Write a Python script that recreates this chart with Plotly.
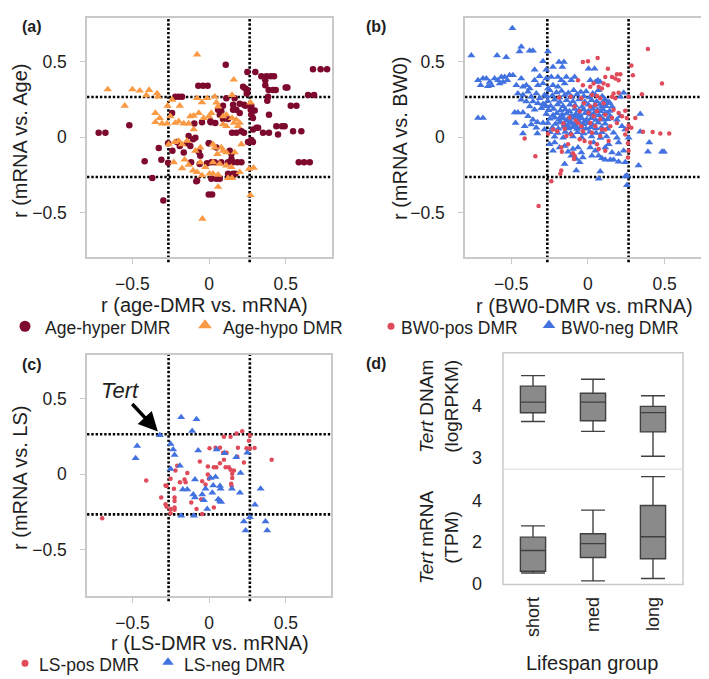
import plotly.graph_objects as go

W, H = 709, 679

# ---------------- Panel (a) : age DMRs ----------------
a_hyper = [(-0.07,0.339),(-0.039,0.339),(-0.009,0.339),
(-0.22,0.267),(-0.198,0.267),(-0.176,0.267),
(-0.241,0.159),(-0.72,0.028),(-0.676,0.028),(-0.52,0.078),
(-0.096,0.089),(-0.046,0.098),(0.009,0.104),
(-0.328,-0.072),(-0.42,-0.161),(-0.311,-0.15),(-0.267,-0.17),(-0.37,-0.272),(-0.298,-0.42),
(-0.267,-0.041),(-0.239,-0.091),(-0.209,-0.033),(-0.191,-0.059),(-0.165,-0.102),(-0.143,-0.041),
(-0.133,0.007),(-0.104,-0.015),(-0.089,-0.004),(-0.122,-0.059),(-0.067,-0.098),(-0.057,-0.124),
(-0.117,-0.167),(-0.061,-0.178),(-0.083,-0.293),(-0.002,-0.041),(-0.013,-0.174),(-0.002,-0.38),
(0.02,-0.38),(-0.078,-0.289),
(0.109,0.478),(0.678,0.448),(0.728,0.448),(0.77,0.448),(0.25,0.43),(0.302,0.43),(0.341,0.402),
(0.374,0.402),(0.402,0.402),(0.424,0.402),(0.367,0.376),(0.222,0.333),(0.237,0.322),(0.367,0.343),
(0.389,0.311),(0.417,0.311),(0.435,0.311),(0.5,0.328),(0.511,0.328),(0.25,0.311),(0.246,0.289),
(0.113,0.257),(0.167,0.257),(0.646,0.278),(0.685,0.278),(0.385,0.267),(0.38,0.241),(0.533,0.207),
(0.57,0.207),(0.2,0.22),(0.228,0.213),(0.237,0.207),(0.157,0.213),(0.178,0.18),(0.2,0.159),
(0.157,0.18),(0.276,0.207),(0.272,0.18),(0.298,0.176),(0.391,0.148),(0.276,0.148),(0.287,0.126),
(0.091,0.207),(0.059,0.18),(0.08,0.17),(0.07,0.148),(0.091,0.12),(0.124,0.12),(0.439,0.072),
(0.476,0.072),(0.493,0.072),(0.287,0.05),(0.309,0.061),(0.32,0.061),(0.352,0.028),(0.391,0.028),
(0.45,0.017),(0.548,0.039),(0.602,0.039),(0.211,0.039),(0.228,0.028),(0.15,0.028),(0.178,0.028),
(0.276,-0.02),(0.254,-0.033),(0.287,-0.033),(0.011,0.098),(0.041,0.093),(0.0,-0.041),(0.048,-0.07),
(0.135,-0.091),(0.146,-0.113),(0.08,-0.167),(0.124,-0.167),(0.157,-0.167),(0.185,-0.167),
(0.211,-0.167),(0.146,-0.146),(0.015,-0.167),(0.037,-0.167),(0.585,-0.167),(0.62,-0.167),
(0.657,-0.167),(0.015,-0.276),(0.048,-0.276),(0.07,-0.276),(0.124,-0.243),(0.157,-0.243),(0.172,-0.243)]

a_hypo = [(-0.078,0.546),(-0.661,0.315),(-0.5,0.315),(-0.452,0.307),(-0.391,0.311),(-0.409,0.276),
(-0.339,0.289),(-0.333,0.267),(-0.55,0.207),(-0.27,0.207),(-0.241,0.246),(-0.191,0.207),
(-0.078,0.257),(-0.046,0.23),(-0.013,0.257),
(-0.35,0.159),(-0.322,0.126),(-0.35,0.098),(-0.307,0.089),(-0.274,0.089),(-0.252,0.137),
(-0.22,0.093),(-0.198,0.104),(-0.165,0.089),(-0.133,0.089),(-0.122,0.137),(-0.1,0.141),
(-0.067,0.159),(-0.035,0.126),(-0.1,0.05),
(-0.263,-0.048),(-0.224,-0.033),(-0.198,-0.026),(-0.176,-0.048),(-0.143,-0.026),(-0.23,-0.167),
(-0.159,-0.15),(-0.176,-0.207),(-0.133,-0.185),(-0.104,-0.222),(-0.078,-0.233),(-0.046,-0.254),
(-0.057,-0.167),(-0.024,-0.2),(-0.089,-0.091),(-0.057,-0.07),(-0.043,-0.541),
(0.161,0.38),(0.15,0.278),(0.27,0.228),(0.037,0.267),(0.048,0.228),(0.059,0.202),(0.015,0.159),
(0.0,0.137),(0.091,0.137),(0.113,0.148),(0.15,0.126),(0.178,0.115),(0.2,0.093),(0.163,0.093),
(0.189,0.072),(0.091,0.083),(0.113,0.072),(0.211,-0.048),(0.026,-0.048),(0.037,-0.07),(0.08,-0.07),
(0.091,-0.091),(0.054,-0.113),(0.113,-0.102),(0.167,-0.102),(0.026,-0.167),(0.07,-0.178),
(0.113,-0.189),(0.146,-0.2),(0.004,-0.243),(0.026,-0.243),(0.059,-0.25),(0.124,-0.272),(0.15,-0.272),
(0.2,-0.233),(0.261,-0.211),(0.291,-0.204),(0.059,-0.33),(0.27,-0.385)]

# ---------------- Panel (b) : BW0 DMRs ----------------
b_pos = [(-0.413,-0.009),(-0.343,-0.128),(-0.26,0.022),(-0.189,0.261),(-0.152,0.054),(-0.2,0.039),
(-0.228,0.05),(-0.174,-0.07),(-0.17,-0.098),(-0.13,-0.048),(-0.141,0.007),(-0.109,0.017),
(-0.098,-0.107),(-0.087,-0.124),(-0.091,-0.146),(-0.174,-0.222),(-0.18,-0.243),(-0.239,-0.293),
(-0.322,-0.457),(-0.033,0.496),(-0.065,0.376),(-0.033,0.343),(-0.113,0.267),(-0.043,0.257),
(-0.026,0.224),(-0.087,0.202),(-0.054,0.17),(-0.065,0.093),(-0.043,0.072),(-0.033,0.039),
(-0.054,-0.015),(-0.022,-0.026),
(0.391,0.583),(0.063,0.524),(0.0,0.502),(0.13,0.452),(0.283,0.474),(0.293,0.409),(0.189,0.415),
(0.211,0.415),(0.178,0.387),(0.2,0.376),(0.157,0.398),(0.113,0.398),(0.483,0.354),(0.102,0.354),
(0.13,0.343),(0.091,0.322),(0.07,0.333),(0.037,0.354),(0.015,0.333),(0.352,0.283),(0.167,0.289),
(0.2,0.293),(0.178,0.257),(0.157,0.267),(0.265,0.267),(0.026,0.278),(0.059,0.272),(0.08,0.257),
(0.102,0.224),(0.048,0.213),(0.015,0.202),(0.167,0.18),(0.2,0.159),(0.243,0.174),(0.222,0.137),
(0.157,0.126),(0.189,0.093),(0.254,0.126),(0.309,0.126),(0.265,0.076),(0.283,0.061),(0.254,0.05),
(0.243,0.017),(0.359,0.035),(0.422,0.033),(0.472,0.024),(0.53,0.024),(0.261,-0.041),(0.265,-0.091),
(0.261,-0.135),(0.113,0.148),(0.08,0.12),(0.146,0.072),(0.091,0.05),(0.048,0.072),(0.015,0.093),
(0.004,0.159),(0.059,0.17),(0.037,0.137),(0.113,0.05),(0.026,0.028),(0.08,0.007),(0.015,-0.037),
(0.059,-0.048),(0.135,-0.026),(0.113,-0.091),(0.07,-0.08),(-0.12,0.13),(-0.08,0.11),(-0.16,0.09)]

b_neg = [(-0.493,0.72),(-0.761,0.539),(-0.593,0.539),(-0.533,0.528),(-0.435,0.598),(-0.446,0.567),
(-0.38,0.572),(-0.359,0.572),(-0.261,0.567),(-0.293,0.502),(-0.348,0.446),(-0.272,0.446),
(-0.228,0.463),(-0.189,0.496),(-0.157,0.496),(-0.167,0.463),
(-0.717,0.376),(-0.685,0.387),(-0.663,0.387),(-0.641,0.365),(-0.63,0.343),(-0.609,0.387),
(-0.587,0.376),(-0.565,0.398),(-0.543,0.398),(-0.526,0.376),(-0.511,0.409),(-0.489,0.409),
(-0.7,0.343),(-0.652,0.337),(-0.576,0.354),(-0.554,0.365),
(-0.435,0.387),(-0.467,0.343),(-0.424,0.333),(-0.402,0.343),(-0.38,0.322),(-0.348,0.376),
(-0.315,0.402),(-0.326,0.343),(-0.293,0.354),(-0.272,0.387),(-0.239,0.398),(-0.196,0.398),
(-0.174,0.376),(-0.141,0.398),(-0.152,0.354),(-0.109,0.376),(-0.087,0.398),(-0.228,0.343),
(-0.196,0.333),(-0.261,0.322),
(-0.457,0.289),(-0.424,0.278),(-0.391,0.3),(-0.37,0.267),(-0.337,0.289),(-0.315,0.257),
(-0.283,0.278),(-0.435,0.246),(-0.402,0.235),(-0.359,0.235),(-0.326,0.224),(-0.293,0.219),
(-0.38,0.202),(-0.348,0.18),(-0.304,0.191),(-0.272,0.202),
(-0.717,0.126),(-0.685,0.126),(-0.478,0.163),(-0.457,0.163),(-0.424,0.163),(-0.472,0.093),
(-0.391,0.137),(-0.359,0.115),(-0.33,0.098),(-0.413,0.072),(-0.37,0.083),(-0.337,0.061),
(-0.424,0.024),(-0.33,0.024),(-0.293,0.093),(-0.283,0.05),
(-0.25,-0.048),(-0.217,-0.037),(-0.185,-0.07),(-0.152,-0.059),(-0.228,-0.091),(-0.13,-0.098),
(-0.098,-0.08),(-0.065,-0.07),(-0.043,-0.102),(-0.076,-0.146),(-0.054,-0.167),(-0.152,-0.178),
(-0.109,-0.124),(-0.033,-0.135),(-0.076,-0.222),
(0.004,0.452),(0.043,0.452),(0.08,0.365),(0.065,0.376),(0.048,0.365),(0.015,0.376),(0.233,0.293),
(0.211,0.267),(0.341,0.152),(0.341,0.035),(0.4,-0.037),(0.391,-0.098),(0.483,-0.098),(0.496,-0.098),
(0.33,-0.189),(0.254,-0.254),(0.254,-0.32),(0.243,-0.261),(0.08,-0.228),(0.07,-0.276),
(0.113,-0.15),(0.146,-0.15),(0.167,-0.15),(0.2,-0.163),(0.243,-0.167),(0.091,-0.141),(0.157,-0.102),
(0.2,-0.113),(0.233,-0.091),(0.265,-0.004),(0.243,0.05),(0.222,0.072),(0.211,0.137),(0.189,0.115),
(0.113,0.246),(0.135,0.224),(0.157,0.202),(0.091,0.202),(0.124,0.159),(0.08,0.17),(0.146,0.137),
(0.102,0.115),(0.167,0.028),(0.189,-0.004),(0.2,-0.037),(0.135,-0.048),(0.113,-0.07),(0.048,-0.091),
(0.026,-0.124),(0.07,-0.124),(0.015,-0.07),(0.037,-0.037),
# dense central cluster
(-0.25,0.31),(-0.205,0.295),(-0.172,0.305),(-0.128,0.292),(-0.093,0.31),(-0.047,0.298),(-0.012,0.302),
(0.031,0.289),(0.068,0.31),(-0.268,0.268),(-0.232,0.275),(-0.187,0.262),(-0.151,0.279),(-0.106,0.265),
(-0.072,0.281),(-0.027,0.27),(0.012,0.262),(0.048,0.279),(0.093,0.27),(-0.262,0.238),(-0.218,0.246),
(-0.183,0.232),(-0.139,0.243),(-0.098,0.236),(-0.058,0.248),(-0.021,0.233),(0.024,0.244),(0.057,0.236),
(0.104,0.241),(0.138,0.232),(-0.281,0.212),(-0.243,0.205),(-0.198,0.216),(-0.162,0.203),(-0.118,0.214),
(-0.083,0.208),(-0.038,0.2),(0.003,0.214),(0.041,0.206),(0.078,0.215),(0.118,0.203),(-0.257,0.178),
(-0.224,0.186),(-0.179,0.175),(-0.148,0.182),(-0.121,0.171),(-0.087,0.186),(-0.061,0.176),(-0.028,0.183),
(0.004,0.172),(0.033,0.186),(0.062,0.177),(0.098,0.183),(0.142,0.172),(-0.272,0.152),(-0.228,0.145),
(-0.203,0.157),(-0.168,0.148),(-0.139,0.155),(-0.108,0.143),(-0.079,0.152),(-0.052,0.146),(-0.018,0.157),
(0.013,0.147),(0.038,0.156),(0.072,0.144),(0.108,0.152),(-0.248,0.121),(-0.217,0.127),(-0.188,0.115),
(-0.161,0.124),(-0.132,0.118),(-0.102,0.126),(-0.068,0.114),(-0.041,0.123),(-0.008,0.116),(0.022,0.125),
(0.052,0.113),(0.088,0.121),(0.128,0.117),(-0.262,0.093),(-0.212,0.087),(-0.183,0.096),(-0.153,0.084),
(-0.118,0.093),(-0.091,0.086),(-0.058,0.095),(-0.032,0.084),(0.002,0.091),(0.031,0.082),(0.067,0.094),
(0.112,0.088),(-0.232,0.062),(-0.193,0.055),(-0.158,0.066),(-0.127,0.057),(-0.098,0.064),(-0.071,0.053),
(-0.038,0.061),(-0.012,0.055),(0.018,0.064),(0.052,0.057),(0.088,0.063),(0.127,0.054),(-0.248,0.032),
(-0.198,0.026),(-0.148,0.034),(-0.112,0.024),(-0.068,0.031),(-0.028,0.023),(0.012,0.033),(0.053,0.026),
(0.092,0.031),(-0.218,0.002),(-0.162,-0.004),(-0.098,0.004),(-0.041,-0.003),(0.024,0.003),(0.081,-0.006),
(0.121,0.004),(-0.143,0.107),(-0.113,0.102),(-0.087,0.132),(-0.176,0.137),(-0.062,0.138),(-0.024,0.103),
(-0.132,0.075),(-0.076,0.072)]

# ---------------- Panel (c) : LS DMRs ----------------
c_pos = [(-0.698,-0.291),(-0.411,-0.041),(0.407,0.096),(0.215,0.285),(0.178,0.27),(0.139,0.248),
(0.096,0.248),(0.265,0.259),(0.259,0.222),(0.243,0.172),(0.265,0.172),(0.296,0.174),(0.041,0.176),
(0.07,0.176),(0.002,0.172),(0.091,0.143),(0.113,0.143),(0.187,0.176),(0.183,0.117),(0.226,0.078),
(0.096,0.096),(0.07,0.074),(-0.061,0.085),(-0.009,0.052),(0.03,0.046),(0.046,0.046),(0.107,0.046),
(0.128,0.046),(0.139,0.03),(0.161,0.026),(0.15,0.004),(0.15,-0.024),(0.143,-0.063),(0.146,-0.078),
(-0.009,-0.002),(-0.002,-0.03),(-0.209,0.057),(-0.22,0.026),(-0.143,0.009),(-0.161,-0.035),
(-0.154,-0.052),(-0.191,-0.052),(-0.252,-0.03),(-0.285,-0.074),(-0.278,-0.078),(-0.23,-0.096),
(-0.046,-0.046),(-0.024,-0.067),(-0.313,-0.154),(-0.226,-0.154),(-0.226,-0.176),(-0.285,-0.198),
(-0.278,-0.215),(-0.226,-0.22),(-0.226,-0.235),(-0.252,-0.23),(-0.117,-0.187),(-0.052,-0.165),
(-0.083,-0.23),(-0.046,-0.263),(0.03,-0.22),(-0.252,-0.257)]

c_neg = [(-0.322,0.259),(-0.183,0.378),(-0.083,0.365),(-0.111,0.287),(-0.47,0.187),(-0.48,0.107),
(-0.252,0.2),(-0.235,0.165),(-0.226,0.128),(-0.191,0.057),(-0.252,0.035),(-0.072,0.157),(0.048,0.165),
(0.1,0.139),(0.248,0.143),(0.176,0.113),(0.204,0.009),(0.009,-0.024),(0.041,-0.017),(-0.093,-0.035),
(-0.024,-0.096),(0.026,-0.074),(0.07,-0.078),(0.074,-0.096),(0.148,-0.096),(0.2,-0.122),(0.335,-0.096),
(-0.172,-0.1),(-0.143,-0.1),(-0.104,-0.133),(-0.093,-0.154),(-0.046,-0.133),(-0.035,-0.172),
(0.02,-0.122),(0.059,-0.165),(0.07,-0.176),(0.078,-0.183),(-0.013,-0.23),(0.298,-0.202),
(-0.183,-0.274),(-0.1,-0.274),(0.265,-0.285),(0.226,-0.313),(0.237,-0.372),(0.367,-0.313),(0.378,-0.372)]

# ---------------- Panel (d) : Tert box plots ----------------
groups = ["short", "med", "long"]
dnam_low = [3.70, 3.51, 3.03]
dnam_q1 = [3.87, 3.715, 3.50]
dnam_med = [4.076, 4.076, 3.873]
dnam_q3 = [4.386, 4.247, 3.994]
dnam_high = [4.59, 4.52, 4.20]
mrna_low = [0.52, 0.14, 0.25]
mrna_q1 = [0.60, 1.26, 1.20]
mrna_med = [1.60, 1.93, 2.26]
mrna_q3 = [2.24, 2.40, 3.76]
mrna_high = [2.78, 3.54, 5.15]

THR = 0.265
DARKRED = "#7d0a2d"
ORANGE = "#fb9a45"
PINK = "#e04b5b"
BLUE = "#4272e0"
TXT = "#1e1e1e"
FONT = "Liberation Sans, Arial, sans-serif"


def px(x):
    return x / W


def py(y):
    return 1 - y / H


def unzip(pts):
    return [p[0] for p in pts], [p[1] for p in pts]


fig = go.Figure()


def scatter(pts, sym, color, size, xa, ya):
    xs, ys = unzip(pts)
    fig.add_trace(go.Scatter(x=xs, y=ys, mode="markers", xaxis=xa, yaxis=ya, showlegend=False,
                             marker=dict(symbol=sym, color=color, size=size, line=dict(width=0))))


scatter(a_hyper, "circle", DARKRED, 6.5, "x", "y")
scatter(a_hypo, "triangle-up", ORANGE, 7.5, "x", "y")
scatter(b_neg, "triangle-up", BLUE, 7, "x2", "y2")
scatter(b_pos, "circle", PINK, 4.5, "x2", "y2")
scatter(c_pos, "circle", PINK, 4.5, "x3", "y3")
scatter(c_neg, "triangle-up", BLUE, 7, "x3", "y3")

# box plots
for lo, q1, me, q3, hi, ya in [(dnam_low, dnam_q1, dnam_med, dnam_q3, dnam_high, "y4"),
                               (mrna_low, mrna_q1, mrna_med, mrna_q3, mrna_high, "y5")]:
    fig.add_trace(go.Box(x=groups, q1=q1, median=me, q3=q3, lowerfence=lo, upperfence=hi,
                         xaxis="x4", yaxis=ya, showlegend=False, width=0.42, whiskerwidth=0.95,
                         fillcolor="#8a8a8a", line=dict(color="#404040", width=1.4),
                         boxpoints=False, hoverinfo="skip"))

# legend markers on an overlay pixel axis
leg_pts = [(17, 323, "circle", DARKRED, 11), (197, 322, "triangle-up", ORANGE, 12),
           (383, 323, "circle", PINK, 7), (541, 322, "triangle-up", BLUE, 11),
           (17, 665, "circle", PINK, 7), (160, 664, "triangle-up", BLUE, 10)]
for lx, ly, sym, col, sz in leg_pts:
    fig.add_trace(go.Scatter(x=[lx], y=[ly], mode="markers", xaxis="x6", yaxis="y6", showlegend=False,
                             marker=dict(symbol=sym, color=col, size=sz, line=dict(width=0)),
                             hoverinfo="skip"))


def sc_axis(x0, x1, rng, anchor, standoff):
    return dict(domain=[x0, x1], range=rng, anchor=anchor, showline=True, mirror=True,
                linecolor="#c9c9c9", linewidth=1.5, ticks="outside", ticklen=5, tickwidth=1,
                tickcolor="#c9c9c9", showgrid=False, zeroline=False, tickvals=[-0.5, 0, 0.5],
                tickfont=dict(size=17.5, color=TXT, family=FONT), ticklabelstandoff=standoff)


layout = dict(
    width=W, height=H, margin=dict(l=0, r=0, t=0, b=0),
    paper_bgcolor="white", plot_bgcolor="rgba(0,0,0,0)", font=dict(family=FONT, color=TXT),
    xaxis=sc_axis(px(79), px(324), [-0.796, 0.802], "y", 5),
    yaxis=sc_axis(py(253), py(10), [-0.796, 0.789], "x", 10),
    xaxis2=sc_axis(px(457), px(698), [-0.802, 0.77], "y2", 5),
    yaxis2=sc_axis(py(253), py(10), [-0.796, 0.789], "x2", 10),
    xaxis3=sc_axis(px(79), px(323), [-0.797, 0.794], "y3", 5),
    yaxis3=sc_axis(py(597), py(352), [-0.807, 0.791], "x3", 10),
    xaxis4=dict(domain=[px(495), px(675)], range=[-0.5, 2.5], anchor="y5", showline=False,
                ticks="", showgrid=False, zeroline=False, tickangle=-90,
                tickfont=dict(size=18, color=TXT, family=FONT), ticklabelstandoff=8),
    yaxis4=dict(domain=[py(468), py(350)], range=[2.78, 5.03], anchor="x4", showline=False,
                showgrid=False, zeroline=False, tickvals=[3, 4], ticks="",
                tickfont=dict(size=18, color=TXT, family=FONT), ticklabelstandoff=20),
    yaxis5=dict(domain=[py(585), py(468)], range=[-0.03, 5.51], anchor="x4", showline=False,
                showgrid=False, zeroline=False, tickvals=[0, 2, 4], ticks="",
                tickfont=dict(size=18, color=TXT, family=FONT), ticklabelstandoff=20),
    xaxis6=dict(domain=[0, 1], range=[0, W], visible=False, anchor="y6"),
    yaxis6=dict(domain=[0, 1], range=[H, 0], visible=False, anchor="x6"),
)
fig.update_layout(**layout)

shapes = []
dot = dict(color="black", width=2.6, dash="2.4px,1.9px")
for xa, ya, ybot, ytop in [("x", "y", 253, 10), ("x2", "y2", 253, 10), ("x3", "y3", 597, 352)]:
    for v in (-THR, THR):
        shapes.append(dict(type="line", xref=xa, yref="paper", x0=v, x1=v, y0=py(ybot + 5), y1=py(ytop),
                           line=dot, layer="below"))
        shapes.append(dict(type="line", xref=xa + " domain", yref=ya, x0=0, x1=1, y0=v, y1=v,
                           line=dot, layer="below"))
# panel d frame
shapes.append(dict(type="rect", xref="paper", yref="paper", x0=px(495), x1=px(675), y0=py(585), y1=py(350),
                   line=dict(color="#c9c9c9", width=1.5), layer="below"))
shapes.append(dict(type="line", xref="paper", yref="paper", x0=px(495), x1=px(675), y0=py(468), y1=py(468),
                   line=dict(color="#e2e2e2", width=1.2), layer="below"))
fig.update_layout(shapes=shapes)

ann = []


def text(x, y, s, size, angle=0, bold=False, xanchor="center", italic=False):
    if bold:
        s = "<b>" + s + "</b>"
    if italic:
        s = "<i>" + s + "</i>"
    ann.append(dict(x=px(x), y=py(y), xref="paper", yref="paper", text=s, showarrow=False,
                    textangle=angle, xanchor=xanchor, yanchor="middle",
                    font=dict(size=size, color=TXT, family=FONT)))


# panel labels
text(12, 19, "(a)", 16, bold=True, xanchor="left")
text(356, 19, "(b)", 16, bold=True, xanchor="left")
text(12, 362, "(c)", 16, bold=True, xanchor="left")
text(356, 361, "(d)", 16, bold=True, xanchor="left")
# axis titles
text(196, 301, "r (age-DMR vs. mRNA)", 20)
text(12, 135, "r (mRNA vs. Age)", 20, angle=-90)
text(576, 302, "r (BW0-DMR vs. mRNA)", 20)
text(392, 133, "r (mRNA vs. BW0)", 20, angle=-90)
text(202, 644, "r (LS-DMR vs. mRNA)", 20)
text(12, 477, "r (mRNA vs. LS)", 20, angle=-90)
text(584, 665, "Lifespan group", 20)
text(431, 405, "<i>Tert</i> DNAm<br>(logRPKM)", 19, angle=-90)
text(431, 537, "<i>Tert</i> mRNA<br>(TPM)", 19, angle=-90)
# legends
text(35, 325, "Age-hyper DMR", 17.5, xanchor="left")
text(213, 325, "Age-hypo DMR", 17.5, xanchor="left")
text(391, 325, "BW0-pos DMR", 17.5, xanchor="left")
text(551, 325, "BW0-neg DMR", 17.5, xanchor="left")
text(29, 667, "LS-pos DMR", 17.5, xanchor="left")
text(174, 667, "LS-neg DMR", 17.5, xanchor="left")
# Tert annotation
text(112, 388, "Tert", 22, italic=True)
ann.append(dict(x=-0.335, y=0.283, xref="x3", yref="y3", text="", showarrow=True, arrowhead=2,
                arrowsize=1.1, arrowwidth=3.5, arrowcolor="black", ax=-27, ay=-29))
fig.update_layout(annotations=ann)

fig.write_html("out.html")
